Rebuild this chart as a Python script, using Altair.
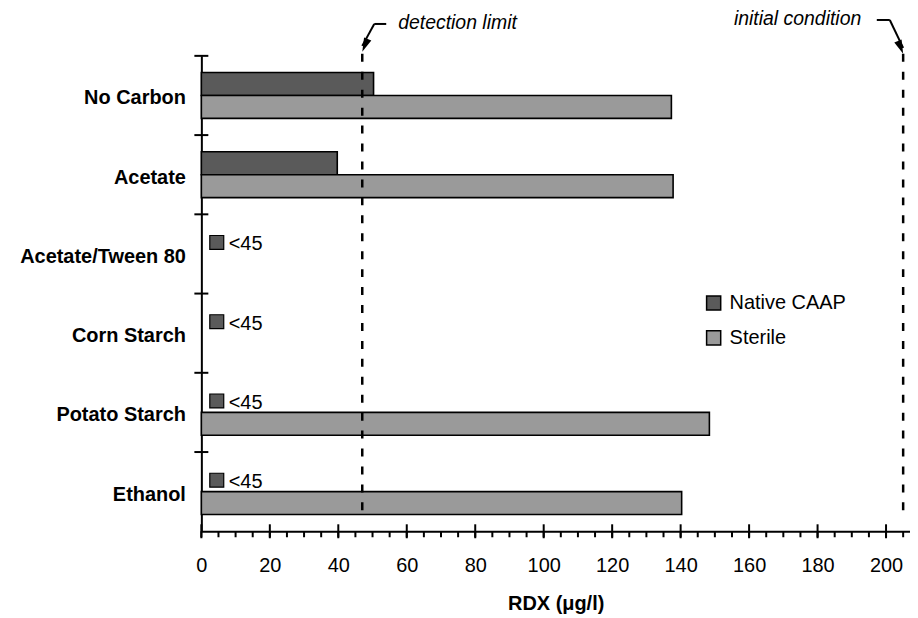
import altair as alt
import pandas as pd

# ---------------- data ----------------
categories = ["No Carbon", "Acetate", "Acetate/Tween 80", "Corn Starch", "Potato Starch", "Ethanol"]
series = ["Native CAAP", "Sterile"]
native_rdx = [50.3, 39.7, None, None, None, None]
sterile_rdx = [137.3, 137.8, None, None, 148.4, 140.3]
below_limit_label = ["", "", "<45", "<45", "<45", "<45"]
below_limit_marker_x = 4.5
detection_limit = 47
initial_condition = 205
x_major = list(range(0, 201, 20))
x_minor = list(range(0, 206, 5))

FONT = "Liberation Sans"
NATIVE_COLOR = "#5a5a5a"
STERILE_COLOR = "#9a9a9a"
W, H = 711, 477

rows = []
for c, n, s in zip(categories, native_rdx, sterile_rdx):
    if n is not None:
        rows.append({"cat": c, "series": "Native CAAP", "rdx": n})
    if s is not None:
        rows.append({"cat": c, "series": "Sterile", "rdx": s})
bars_df = pd.DataFrame(rows)

nd_df = pd.DataFrame([
    {"cat": c, "series": "Native CAAP", "rdx": below_limit_marker_x, "label": l}
    for c, l in zip(categories, below_limit_label) if l
])

x_scale = alt.Scale(domain=[0, 207], nice=False, zero=True)
y_scale = alt.Scale(domain=categories, paddingInner=0, paddingOuter=0)
yoff_scale = alt.Scale(domain=series, paddingInner=0, paddingOuter=0.73)

X_AXIS = alt.Axis(orient="bottom", values=x_major, ticks=False, domain=True,
                  domainColor="black", domainWidth=2, labelFlush=False,
                  labelFont=FONT, labelFontSize=20, labelColor="black", labelPadding=24,
                  title="RDX (μg/l)", titleFont=FONT, titleFontSize=20,
                  titleFontWeight="bold", titleColor="black", titlePadding=18,
                  grid=False)
Y_AXIS = alt.Axis(orient="left", ticks=False, domain=True, domainColor="black",
                  domainWidth=2, labelFont=FONT, labelFontSize=20,
                  labelFontWeight="bold", labelColor="black", labelPadding=16,
                  labelOffset=3, title=None, grid=False)


def X(field):
    return alt.X(field, type="quantitative", scale=x_scale, axis=X_AXIS)


def Y(**kw):
    return alt.Y("cat", type="nominal", scale=y_scale, axis=Y_AXIS, **kw)


YOFF = alt.YOffset("series:N", scale=yoff_scale)

# ---------------- bars ----------------
bars = alt.Chart(bars_df).mark_bar(stroke="black", strokeWidth=1.6, opacity=1).encode(
    x=X("rdx"),
    y=Y(),
    yOffset=YOFF,
    color=alt.Color("series:N", scale=alt.Scale(domain=series, range=[NATIVE_COLOR, STERILE_COLOR]),
                    legend=alt.Legend(title=None, orient="none", legendX=504, legendY=238,
                                      symbolType="square", symbolSize=200,
                                      symbolStrokeColor="black", symbolStrokeWidth=1.5,
                                      symbolOpacity=1, labelFont=FONT, labelFontSize=20,
                                      labelColor="black", labelOffset=6, rowPadding=13,
                                      padding=0)),
)

# ---------------- tick marks drawn from the tick value lists ----------------
minor_df = pd.DataFrame({"x": x_minor})
major_df = pd.DataFrame({"x": x_major})
cat_df = pd.DataFrame({"cat": categories})

minor_ticks = alt.Chart(minor_df).mark_rule(color="black", strokeWidth=2).encode(
    x=X("x"), y=alt.value(H), y2=alt.value(H + 6))
major_ticks = alt.Chart(major_df).mark_rule(color="black", strokeWidth=2).encode(
    x=X("x"), y=alt.value(H - 7), y2=alt.value(H + 7))
y_ticks = alt.Chart(cat_df).mark_rule(color="black", strokeWidth=2).encode(
    y=Y(bandPosition=0), x=alt.value(-7), x2=alt.value(7))

# ---------------- below-detection markers ----------------
markers = alt.Chart(nd_df).mark_point(shape="square", filled=True, size=196, fill=NATIVE_COLOR,
                                      stroke="black", strokeWidth=1.2, opacity=1).encode(
    x=X("rdx"), y=Y(), yOffset=YOFF)

nd_text = alt.Chart(nd_df).mark_text(align="left", baseline="middle", dx=12, dy=2, font=FONT,
                                     fontSize=20, color="black").encode(
    x=X("rdx"), y=Y(), yOffset=YOFF, text="label:N")

# ---------------- reference lines ----------------
ann_df = pd.DataFrame({"x": [detection_limit, initial_condition],
                       "label": ["detection limit", "initial condition"]})
ref_lines = alt.Chart(ann_df).mark_rule(color="black", strokeWidth=2.5, strokeDash=[8, 10]).encode(
    x=X("x"), y=alt.value(-2), y2=alt.value(H - 11))

ARROW_PATH = "M0,0 L-0.45,-1.6 L0.45,-1.6 Z"


def arrow(line_x, knee_dx, end_dx, y_knee, y_tip, angle):
    seg_df = pd.DataFrame({"x": [line_x + knee_dx], "x2": [line_x + end_dx]})
    diag_df = pd.DataFrame({"x": [line_x + knee_dx], "x2": [line_x]})
    tip_df = pd.DataFrame({"x": [line_x]})
    seg = alt.Chart(seg_df).mark_rule(color="black", strokeWidth=2).encode(
        x=X("x"), x2="x2:Q", y=alt.value(y_knee), y2=alt.value(y_knee))
    diag = alt.Chart(diag_df).mark_rule(color="black", strokeWidth=2).encode(
        x=X("x"), x2="x2:Q", y=alt.value(y_knee), y2=alt.value(y_tip - 6))
    head = alt.Chart(tip_df).mark_point(shape=ARROW_PATH, filled=True, size=306, color="black",
                                        opacity=1, angle=angle).encode(
        x=X("x"), y=alt.value(y_tip))
    return [seg, diag, head]


arrows = arrow(detection_limit, 3.5, 7.0, -32, -4, 23) + arrow(initial_condition, -3.9, -7.7, -36, -2, 338)

det_text = alt.Chart(ann_df.iloc[[0]]).mark_text(align="left", baseline="middle", dx=36, font=FONT,
                                                 fontSize=19.5, fontStyle="italic", color="black").encode(
    x=X("x"), y=alt.value(-33), text="label:N")
ini_text = alt.Chart(ann_df.iloc[[1]]).mark_text(align="right", baseline="middle", dx=-42, font=FONT,
                                                 fontSize=19.5, fontStyle="italic", color="black").encode(
    x=X("x"), y=alt.value(-37), text="label:N")

chart = alt.layer(
    bars, minor_ticks, major_ticks, y_ticks, markers, nd_text, ref_lines, *arrows, det_text, ini_text
).properties(
    width=W, height=H,
    padding={"left": 194, "top": 47, "right": 0, "bottom": 86},
    autosize=alt.AutoSizeParams(type="none"),
).configure_view(stroke=None)

chart.save("out.html", embed_options={"renderer": "svg", "actions": False})
